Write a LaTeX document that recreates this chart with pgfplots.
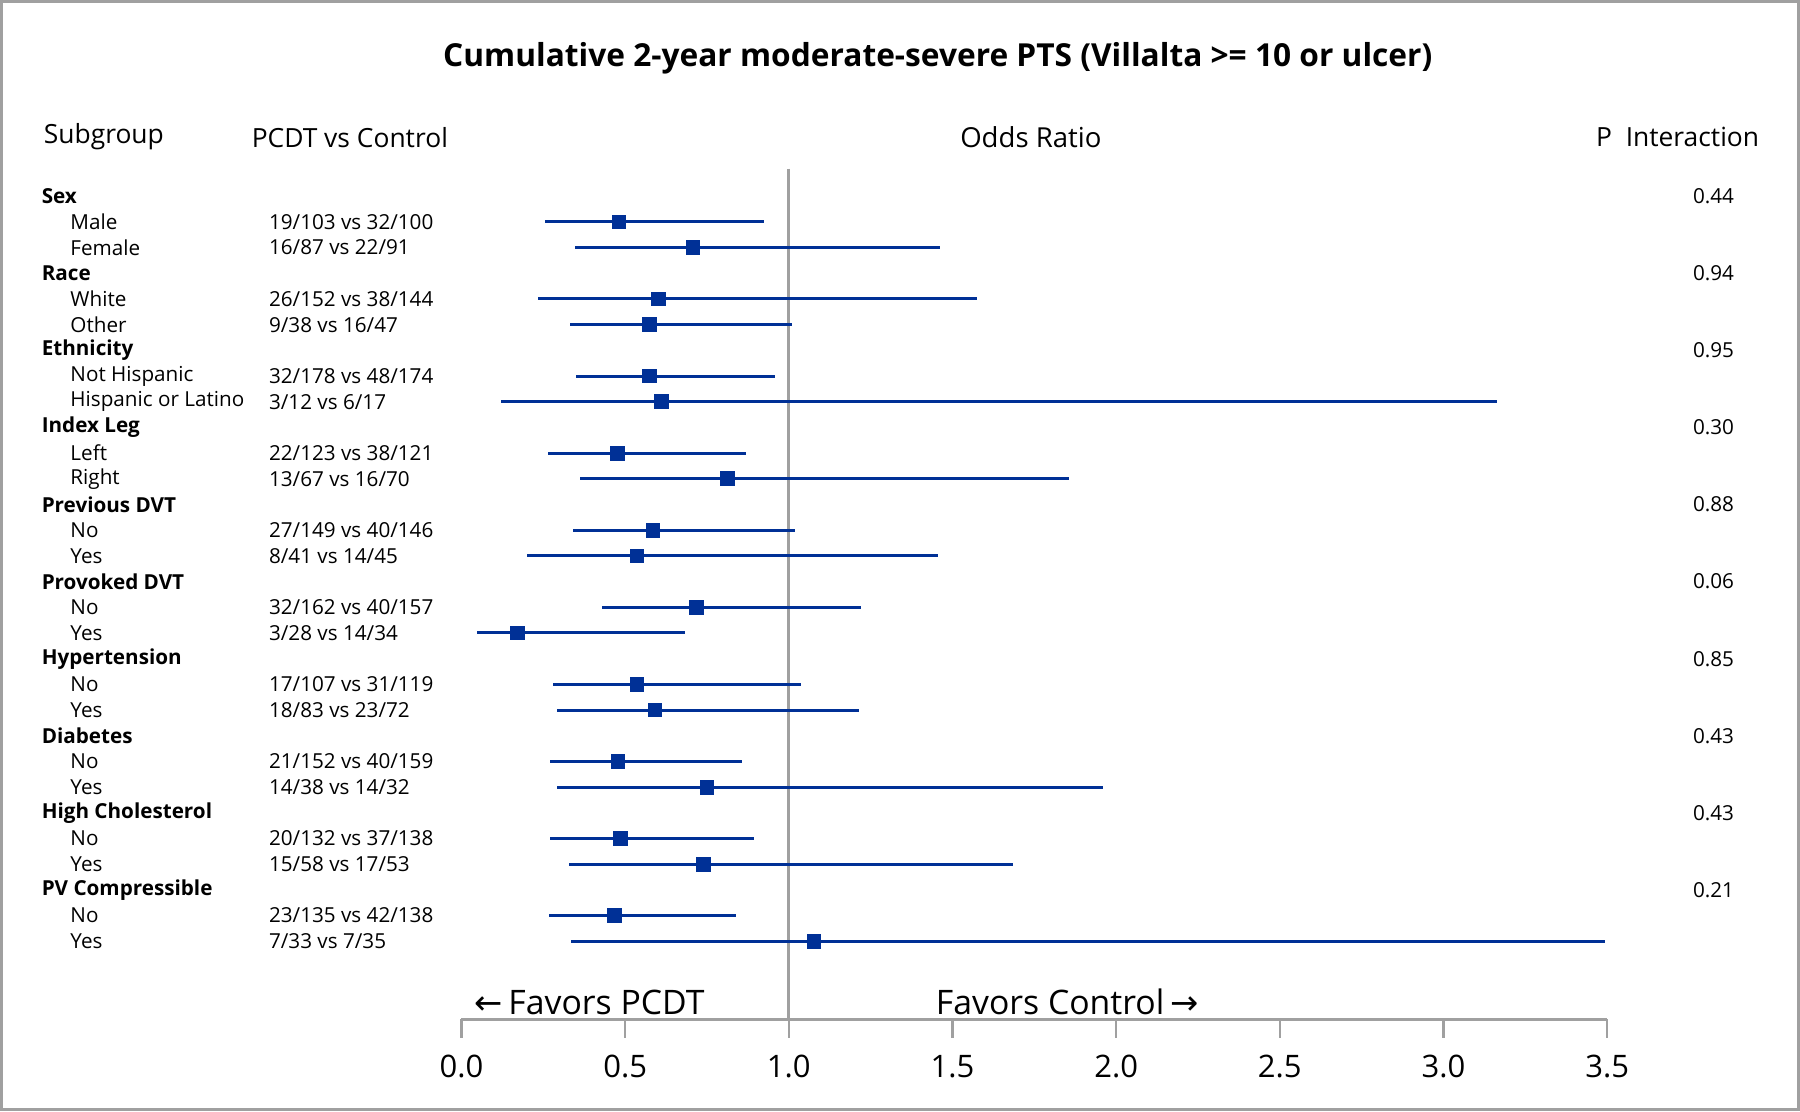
\documentclass[border=0pt]{standalone}
\usepackage{fontspec}
\setmainfont{Open Sans}
\newfontfamily\arrowfont{DejaVu Sans}
\usepackage{pgfplots}
\usepackage{pgfplotstable}
\pgfplotsset{compat=1.18}

\definecolor{ciblue}{RGB}{0,48,150}
\definecolor{refgray}{RGB}{160,160,160}

% group rows: row index, name, p for interaction
\pgfplotstableread[col sep=comma]{
row,name,p
1,Sex,0.44
4,Race,0.94
7,Ethnicity,0.95
10,Index Leg,0.30
13,Previous DVT,0.88
16,Provoked DVT,0.06
19,Hypertension,0.85
22,Diabetes,0.43
25,High Cholesterol,0.43
28,PV Compressible,0.21
}\groups

% subgroup rows: odds ratio with 95% CI
\pgfplotstableread[col sep=comma]{
row,name,counts,est,lo,hi
2,Male,19/103 vs 32/100,0.481,0.254,0.925
3,Female,16/87 vs 22/91,0.707,0.346,1.461
5,White,26/152 vs 38/144,0.601,0.234,1.575
6,Other,9/38 vs 16/47,0.575,0.330,1.011
8,Not Hispanic,32/178 vs 48/174,0.574,0.351,0.958
9,Hispanic or Latino,3/12 vs 6/17,0.611,0.122,3.162
11,Left,22/123 vs 38/121,0.476,0.265,0.869
12,Right,13/67 vs 16/70,0.812,0.362,1.855
14,No,27/149 vs 40/146,0.585,0.341,1.020
15,Yes,8/41 vs 14/45,0.536,0.201,1.457
17,No,32/162 vs 40/157,0.719,0.430,1.221
18,Yes,3/28 vs 14/34,0.171,0.048,0.682
20,No,17/107 vs 31/119,0.536,0.281,1.038
21,Yes,18/83 vs 23/72,0.591,0.291,1.213
23,No,21/152 vs 40/159,0.478,0.269,0.857
24,Yes,14/38 vs 14/32,0.750,0.291,1.961
26,No,20/132 vs 37/138,0.486,0.269,0.895
27,Yes,15/58 vs 17/53,0.739,0.328,1.686
29,No,23/135 vs 42/138,0.468,0.266,0.838
30,Yes,7/33 vs 7/35,1.077,0.334,3.494
}\subs

\newcommand\rowfont{\fontsize{9}{11}\selectfont}

\begin{document}
\begin{tikzpicture}
\path[use as bounding box] (-201pt,-40pt) rectangle (583pt,444pt);
\begin{axis}[
    scale only axis,
    width=499pt, height=370.5pt,
    xmin=0, xmax=3.5,
    ymin=-33.04, ymax=0.07,
    clip=false,
    axis x line*=bottom,
    axis y line=none,
    x axis line style={-, refgray, line width=1.2pt},
    xtick={0,0.5,...,3.5},
    ytick=\empty,
    tick align=outside,
    major tick length=8pt,
    xtick style={refgray, line width=1pt},
    xticklabel style={font=\fontsize{13.5}{15}\selectfont, yshift=-4pt,
        /pgf/number format/.cd, fixed, fixed zerofill, precision=1,
        assume math mode=true},
]
% reference line at OR = 1
\addplot[refgray, line width=1.2pt] coordinates {(1,0.07) (1,-33.04)};

% group names
\addplot[draw=none, mark=none, nodes near coords, point meta=explicit symbolic,
    nodes near coords style={anchor=west, inner sep=0pt, font=\rowfont\bfseries}]
    table[x expr=-1.2836, y expr=-\thisrow{row}, meta=name] {\groups};
% p interaction
\addplot[draw=none, mark=none, nodes near coords, point meta=explicit symbolic,
    nodes near coords style={anchor=east, inner sep=0pt, font=\rowfont}]
    table[x expr=3.889, y expr=-\thisrow{row}, meta=p] {\groups};
% subgroup names
\addplot[draw=none, mark=none, nodes near coords, point meta=explicit symbolic,
    nodes near coords style={anchor=west, inner sep=0pt, font=\rowfont}]
    table[x expr=-1.1959, y expr=-\thisrow{row}, meta=name] {\subs};
% counts
\addplot[draw=none, mark=none, nodes near coords, point meta=explicit symbolic,
    nodes near coords style={anchor=west, inner sep=0pt, font=\rowfont}]
    table[x expr=-0.5892, y expr=-\thisrow{row}, meta=counts] {\subs};

% odds ratios with CI
\addplot[only marks, mark=square*, mark size=3pt, color=ciblue,
    error bars/.cd, x dir=both, x explicit, error mark=none,
    error bar style={line width=1.3pt, ciblue}]
    table[x=est, y expr=-\thisrow{row},
          x error plus expr=\thisrow{hi}-\thisrow{est},
          x error minus expr=\thisrow{est}-\thisrow{lo}] {\subs};

% title and headers
\node[font=\fontsize{13.8}{16}\selectfont\bfseries] at (axis cs:1.455,4.36)
    {Cumulative 2-year moderate-severe PTS (Villalta >= 10 or ulcer)};
\node[anchor=west, inner sep=0pt, font=\fontsize{11.5}{13}\selectfont] at (axis cs:-1.277,1.3) {Subgroup};
\node[anchor=west, inner sep=0pt, font=\fontsize{11.5}{13}\selectfont] at (axis cs:-0.642,1.3) {PCDT vs Control};
\node[inner sep=0pt, font=\fontsize{12}{14}\selectfont] at (axis cs:1.7395,1.3) {Odds Ratio};
\node[anchor=west, inner sep=0pt, font=\fontsize{11.5}{13}\selectfont] at (axis cs:3.465,1.3) {P\ \ Interaction};

% favours labels
\node[anchor=west, inner sep=0pt, font=\fontsize{14.7}{17}\selectfont] at (axis cs:0.0386,-32.37)
    {{\arrowfont ←}\,Favors PCDT};
\node[anchor=west, inner sep=0pt, font=\fontsize{14.7}{17}\selectfont] at (axis cs:1.448,-32.37)
    {Favors Control\,{\arrowfont →}};
\end{axis}
\draw[refgray, line width=1.3pt] (-200.35pt,-39.35pt) rectangle (582.35pt,443.35pt);
\end{tikzpicture}
\end{document}
